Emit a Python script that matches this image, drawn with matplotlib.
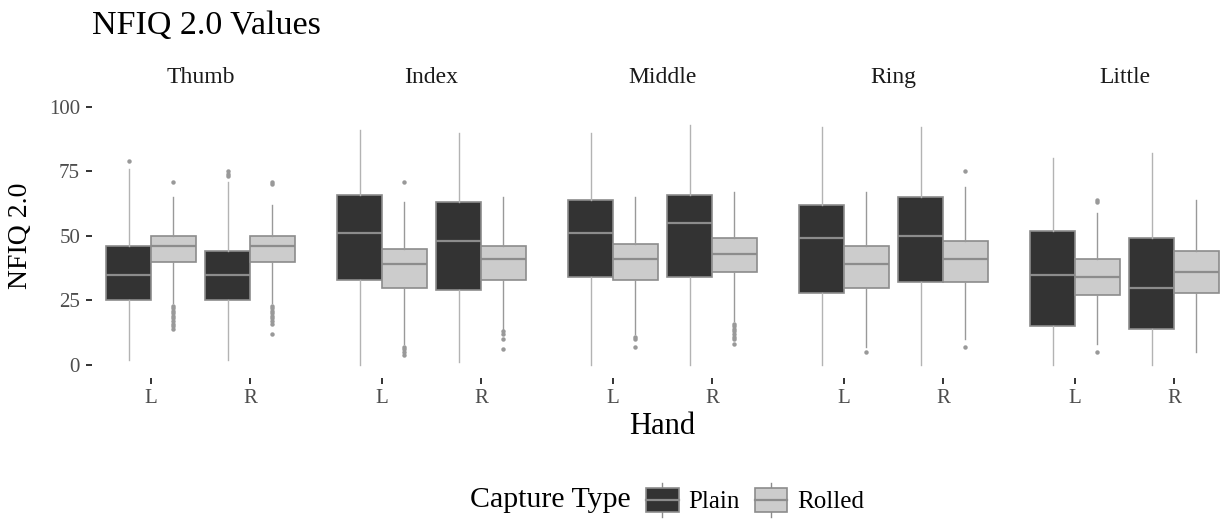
import numpy as np
import matplotlib.pyplot as plt
from matplotlib.patches import Rectangle, Patch
from matplotlib.lines import Line2D
from matplotlib.legend_handler import HandlerBase

plt.rcParams['font.family'] = ['Liberation Serif', 'DejaVu Serif']

# Данные (порядок: Thumb L, Thumb R, Index L, Index R, ..., Little L, Little R)
fingers = ['Thumb', 'Index', 'Middle', 'Ring', 'Little']
hands = ['L', 'R']
capture_types = ['Plain', 'Rolled']

plain_q1 = [25, 25, 33, 29, 34, 34, 28, 32, 15, 14]
plain_med = [35, 35, 51, 48, 51, 55, 49, 50, 35, 30]
plain_q3 = [46, 44, 66, 63, 64, 66, 62, 65, 52, 49]
plain_lo = [2, 2, 0, 1, 0, 0, 0, 0, 0, 0]
plain_hi = [76, 71, 91, 90, 90, 93, 92, 92, 80, 82]
plain_out = [[79], [73, 74, 75], [], [], [], [], [], [], [], []]

rolled_q1 = [40, 40, 30, 33, 33, 36, 30, 32, 27, 28]
rolled_med = [46, 46, 39, 41, 41, 43, 39, 41, 34, 36]
rolled_q3 = [50, 50, 45, 46, 47, 49, 46, 48, 41, 44]
rolled_lo = [24, 24, 8, 14, 12, 17, 7, 10, 8, 5]
rolled_hi = [65, 62, 63, 65, 65, 67, 67, 69, 59, 64]
rolled_out = [[71, 23, 22, 21, 20, 19, 18, 17, 16, 15, 14],
              [70, 71, 23, 22, 21, 20, 19, 18, 17, 16, 12],
              [71, 7, 6, 5, 4],
              [13, 12, 10, 6],
              [11, 10, 7],
              [16, 15, 14, 13, 12, 11, 10, 8],
              [5],
              [75, 7],
              [63, 64, 5],
              []]

yticks = [0, 25, 50, 75, 100]

fill_colors = {'Plain': '#333333', 'Rolled': '#cccccc'}
whisker_colors = {'Plain': '#b3b3b3', 'Rolled': '#999999'}
edge = '#8c8c8c'


def make_stats(q1, med, q3, lo, hi, out, k):
    return dict(q1=q1[k], med=med[k], q3=q3[k], whislo=lo[k], whishi=hi[k],
                fliers=np.array(out[k], dtype=float))


W, H = 1228, 521
fig = plt.figure(figsize=(W / 100, H / 100), dpi=100)

left0, step, pw = 91.6, 231.0, 217.8
top, bottom = 93.8, 377.9

for i, finger in enumerate(fingers):
    ax = fig.add_axes([(left0 + step * i) / W, 1 - bottom / H, pw / W, (bottom - top) / H])
    ks = [2 * i, 2 * i + 1]
    series = {
        'Plain': [make_stats(plain_q1, plain_med, plain_q3, plain_lo, plain_hi, plain_out, k) for k in ks],
        'Rolled': [make_stats(rolled_q1, rolled_med, rolled_q3, rolled_lo, rolled_hi, rolled_out, k) for k in ks],
    }
    for c, off in zip(capture_types, [-0.225, 0.225]):
        ax.bxp(series[c], positions=[1 + off, 2 + off], widths=0.45, patch_artist=True,
               showcaps=False,
               boxprops=dict(facecolor=fill_colors[c], edgecolor=edge, linewidth=1.2),
               medianprops=dict(color=edge, linewidth=1.6),
               whiskerprops=dict(color=whisker_colors[c], linewidth=1.0),
               flierprops=dict(marker='o', markersize=3.2, markerfacecolor='#999999',
                               markeredgecolor='none'))
    ax.set_xlim(0.4, 2.6)
    ax.set_ylim(-5, 105)
    ax.set_xticks([1, 2], hands)
    for s in ax.spines.values():
        s.set_visible(False)
    ax.tick_params(axis='x', length=4.3, width=1.4, color='#333333', labelcolor='#4d4d4d',
                   labelsize=15, pad=3.6)
    if i == 0:
        ax.set_yticks(yticks)
        ax.tick_params(axis='y', length=4.3, width=1.4, color='#333333', labelcolor='#4d4d4d',
                       labelsize=15, pad=4)
    else:
        ax.set_yticks([])
    ax.annotate(finger, xy=(0.5, 1), xycoords='axes fraction', xytext=(0, 16 * 0.72),
                textcoords='offset points', ha='center', va='center', fontsize=17, color='#1a1a1a')

panel_center = (left0 + step * 4 + pw + left0) / 2 / W
fig.text(left0 / W, 1 - 26 / H, 'NFIQ 2.0 Values', fontsize=24.5, ha='left', va='center', color='#000000')
fig.text(panel_center, 1 - 426 / H, 'Hand', fontsize=22, ha='center', va='center', color='#000000')
fig.text(21 / W, 1 - 236 / H, 'NFIQ 2.0', fontsize=20, rotation=90, ha='center', va='center',
         color='#000000')


class BoxKey(HandlerBase):
    def create_artists(self, legend, orig_handle, xdescent, ydescent, width, height, fontsize, trans):
        fc = orig_handle.get_facecolor()
        x0, y0 = -xdescent, -ydescent
        cx = x0 + width / 2
        return [Line2D([cx, cx], [y0, y0 + height], color=edge, lw=1, transform=trans),
                Rectangle((x0, y0 + 0.15 * height), width, 0.7 * height, facecolor=fc,
                          edgecolor=edge, lw=1.2, transform=trans),
                Line2D([x0, x0 + width], [y0 + height / 2] * 2, color=edge, lw=1.6, transform=trans)]


handles = [Patch(facecolor=fill_colors[c]) for c in capture_types]
fig.text(631 / W, 1 - 500 / H, 'Capture Type', fontsize=21.5, ha='right', va='center', color='#000000')
fig.legend(handles, capture_types, handler_map={Patch: BoxKey()}, loc='center left',
           bbox_to_anchor=(646 / W, 1 - 500 / H), ncol=2, frameon=False, fontsize=18,
           borderpad=0, borderaxespad=0, handlelength=1.3, handleheight=1.7,
           handletextpad=0.4, columnspacing=0.6)

fig.savefig('out.png', dpi=100, facecolor='white')
